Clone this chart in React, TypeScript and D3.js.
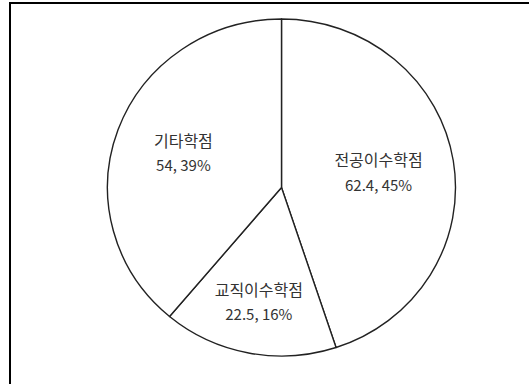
import React from "react";
import * as d3 from "d3";

const categories = ["전공이수학점", "교직이수학점", "기타학점"];
const values = [62.4, 22.5, 54];
const percentLabels = ["45%", "16%", "39%"];

const W = 529;
const H = 384;
// label distance from centre, as fraction of radius (layout, Excel best-fit)
const labelRadiusFactor = [0.565, 0.69, 0.6];

export default function App() {
  const cx = 281.5;
  const cy = 187.5;
  const rx = 174;
  const ry = 168.5;
  const R = 170;
  const sx = rx / R;
  const sy = ry / R;

  const pie = d3.pie<number>().sort(null).value((d) => d);
  const arcs = pie(values);
  const arc = d3.arc<d3.PieArcDatum<number>>().innerRadius(0).outerRadius(R);

  const font = "'Malgun Gothic', 'Noto Sans CJK KR', sans-serif";

  return (
    <div style={{ position: "fixed", left: 0, top: 0 }}>
      <svg width={W} height={H} style={{ display: "block", background: "#fff" }}>
        <rect x={0} y={0} width={W} height={H} fill="#fff" />
        <path
          d={`M10,${H} L10,3 L${W},3`}
          fill="none"
          stroke="#000"
          strokeWidth={2}
        />
        <g transform={`translate(${cx},${cy}) scale(${sx},${sy})`}>
          {arcs.map((a, i) => (
            <path
              key={i}
              d={arc(a) || ""}
              fill="#fff"
              stroke="#222"
              strokeWidth={1.4}
              vectorEffect="non-scaling-stroke"
              strokeLinejoin="round"
            />
          ))}
        </g>
        {arcs.map((a, i) => {
          const lr = labelRadiusFactor[i] * R;
          const labelArc = d3
            .arc<d3.PieArcDatum<number>>()
            .innerRadius(lr)
            .outerRadius(lr);
          const [lx, ly] = labelArc.centroid(a);
          const x = cx + lx * sx;
          const y = cy + ly * sy;
          return (
            <text
              key={i}
              x={x}
              y={y}
              textAnchor="middle"
              fontFamily={font}
              fill="#333"
            >
              <tspan x={x} dy={-6} fontSize={16}>
                {categories[i]}
              </tspan>
              <tspan x={x} dy={24.5} fontSize={15}>
                {`${values[i]}, ${percentLabels[i]}`}
              </tspan>
            </text>
          );
        })}
      </svg>
    </div>
  );
}
